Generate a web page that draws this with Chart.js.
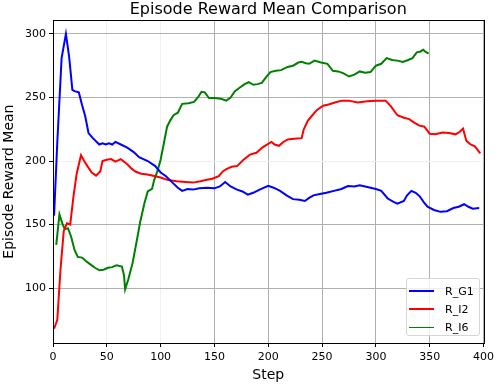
<!DOCTYPE html>
<html>
<head>
<meta charset="utf-8">
<script src="https://cdn.jsdelivr.net/npm/chart.js@4.4.1/dist/chart.umd.min.js"></script>
<style>
    body { margin: 0; background: #fff; }
    #wrap { position: relative; width: 498px; height: 384px; }
    #legend {
        position: absolute; left: 406px; top: 278px; width: 74px; height: 58px;
        border: 1px solid #d6d6d6; border-radius: 3px; background: rgba(255,255,255,0.8);
        font-family: "DejaVu Sans", sans-serif; font-size: 11px; color: #000;
        box-sizing: border-box; padding-top: 3px;
    }
    #legend .row { display: flex; align-items: center; height: 18px; }
    #legend .swatch { width: 25px; margin-left: 2px; margin-right: 11px; }
</style>
</head>
<body>
<div id="wrap">
    <canvas id="rewardChart" width="498" height="384"></canvas>
    <div id="legend"></div>
</div>
<script>
// data
const xTicks = [0, 50, 100, 150, 200, 250, 300, 350, 400];
const yTicks = [100, 150, 200, 250, 300];

const g1Steps = [1, 4, 8, 12, 15, 18, 20, 24, 27, 30, 33, 37, 43, 46, 49, 52, 55, 58, 63, 69, 75, 80, 88, 95, 100, 105, 111, 116, 120, 125, 130, 136, 143, 150, 155, 160, 165, 171, 176, 181, 186, 192, 200, 205, 211, 217, 223, 229, 234, 238, 242, 248, 254, 261, 268, 274, 280, 285, 290, 295, 300, 305, 311, 316, 320, 326, 329, 333, 337, 341, 345, 348, 354, 360, 366, 372, 377, 382, 386, 390, 396];
const g1Values = [157, 215, 281, 300, 282, 256, 255, 254, 244, 235, 222, 218, 213, 214, 213, 214, 213, 215, 213, 210.5, 207, 203, 200, 196, 191, 188, 183, 179, 176.5, 178, 177.5, 178.5, 179, 178.5, 180, 183.5, 180, 177.5, 176, 173.5, 175, 177.5, 180.5, 179, 176.5, 173, 170, 169.5, 168.5, 171, 173, 174, 175, 176.5, 178, 180.3, 180, 181, 180, 179, 178, 176.5, 170.5, 168, 166.5, 168.5, 173, 176.5, 175, 172, 167, 164, 161.5, 160, 160.5, 163, 164, 166, 164, 162.5, 163];

const i2Steps = [1, 4, 7, 10, 13, 16, 19, 22, 26, 29, 32, 36, 40, 44, 46, 50, 54, 58, 63, 69, 73, 77, 82, 86, 90, 95, 100, 107, 115, 123, 130, 137, 142, 148, 154, 158, 162, 166, 171, 177, 183, 189, 195, 200, 203, 206, 210, 214, 218, 224, 231, 233, 237, 241, 245, 251, 256, 262, 268, 275, 283, 292, 300, 309, 314, 320, 326, 331, 336, 340, 345, 350, 355, 362, 368, 374, 378, 381, 384, 388, 392, 397];
const i2Values = [68, 75, 115, 145, 151, 150, 172, 190, 204.5, 200, 196, 191, 188.5, 192, 200, 201, 201.5, 199.5, 201.5, 197.5, 194, 191.5, 190, 189.5, 189, 188, 187, 185, 184, 183.5, 183, 184, 185, 186, 188, 192, 194, 195.5, 196, 201, 205, 206.5, 211, 213.5, 215, 213, 212, 215, 217, 217.5, 218, 225, 232, 236, 240, 243.5, 244.5, 246, 247.5, 247.5, 246, 247, 247.5, 247.5, 243, 236, 234, 233, 230, 228, 227, 221.5, 221, 222.5, 222, 221, 223, 225.5, 216, 213, 211.5, 206];

const i6Steps = [3, 6, 9, 11, 14, 17, 20, 23, 27, 31, 35, 39, 43, 47, 51, 55, 59, 64, 66, 67, 70, 74, 78, 81, 85, 88, 92, 94, 97, 100, 103, 106, 109, 112, 116, 120, 126, 131, 135, 138, 141, 145, 150, 156, 161, 165, 169, 174, 178, 182, 186, 190, 194, 198, 202, 207, 212, 218, 223, 228, 231, 235, 238, 243, 249, 255, 260, 265, 270, 275, 280, 285, 290, 295, 300, 305, 310, 315, 320, 325, 330, 334, 338, 341, 344, 346, 349];
const i6Values = [134, 158, 150, 146.5, 147, 140, 130, 124.5, 124, 121, 118.5, 116, 114, 114.5, 116, 116.5, 118, 117, 110, 99, 107, 120, 138, 152, 167, 176, 178, 185, 192, 201, 214, 227, 232, 236, 238, 245, 245.5, 246.5, 250.5, 254.5, 254, 249.5, 249.5, 249, 247.5, 250, 255, 258, 260.5, 262, 260, 260.5, 261.5, 266, 270, 271, 271.5, 274, 275, 277.5, 278, 277, 276.5, 279, 277.5, 276.5, 271, 270.5, 269, 266.5, 268, 270.5, 269.5, 270, 275, 276.5, 281, 279.5, 279, 278, 279.5, 281, 285.5, 286, 287.5, 286, 284.5];

// grid lines that come out very faint in the reference
const faintX = [50, 100];
const faintY = [200];

function toPoints(xs, ys) {
    return xs.map((x, i) => ({ x: x, y: ys[i] }));
}

// black box round the plot + title centred over the plot, not the canvas
const frame = {
    id: 'frame',
    afterLayout(chart) {
        if (chart.titleBlock) {
            chart.titleBlock.left = chart.chartArea.left;
            chart.titleBlock.right = chart.chartArea.right;
            chart.titleBlock.width = chart.chartArea.right - chart.chartArea.left;
        }
    },
    afterDraw(chart) {
        const a = chart.chartArea;
        const c = chart.ctx;
        c.save();
        c.strokeStyle = '#000';
        c.lineWidth = 1;
        c.strokeRect(Math.round(a.left) + 0.5, Math.round(a.top) + 0.5, Math.round(a.right - a.left), Math.round(a.bottom - a.top));
        c.restore();
    }
};

const font = { family: '"DejaVu Sans", sans-serif', size: 11 };

const chart = new Chart(document.getElementById('rewardChart'), {
    type: 'line',
    data: {
        datasets: [
            { label: 'R_G1', data: toPoints(g1Steps, g1Values), borderColor: '#0000ff', legendWidth: 2 },
            { label: 'R_I2', data: toPoints(i2Steps, i2Values), borderColor: '#ff0000', legendWidth: 2 },
            { label: 'R_I6', data: toPoints(i6Steps, i6Values), borderColor: '#008000', legendWidth: 1 }
        ].map(d => Object.assign(d, { borderWidth: 2, pointRadius: 0, tension: 0, fill: false }))
    },
    options: {
        responsive: false,
        animation: false,
        layout: { padding: { left: 0, right: 12, top: 0, bottom: 0 } },
        plugins: {
            legend: { display: false },
            tooltip: { enabled: false },
            title: {
                display: true,
                text: 'Episode Reward Mean Comparison',
                color: '#000',
                font: { family: '"DejaVu Sans", sans-serif', size: 16, weight: 'normal' },
                padding: { top: 0, bottom: 1 }
            }
        },
        scales: {
            x: {
                type: 'linear',
                min: 0,
                max: 400,
                afterBuildTicks: s => { s.ticks = xTicks.map(v => ({ value: v })); },
                afterFit: s => { s.height = 41; },
                ticks: { color: '#000', font: font, padding: 4, maxRotation: 0 },
                grid: {
                    color: c => faintX.includes(c.tick && c.tick.value) ? '#f0f0f0' : '#b0b0b0',
                    tickColor: '#000',
                    tickLength: 4
                },
                border: { color: '#000' },
                title: { display: true, text: 'Step', color: '#000', font: { family: '"DejaVu Sans", sans-serif', size: 14 }, padding: { top: 0, bottom: 0 } }
            },
            y: {
                min: 56.8,
                max: 310.8,
                afterBuildTicks: s => { s.ticks = yTicks.map(v => ({ value: v })); },
                afterFit: s => { s.width = 53; },
                ticks: { color: '#000', font: font, padding: 3 },
                grid: {
                    color: c => faintY.includes(c.tick && c.tick.value) ? '#f0f0f0' : '#b0b0b0',
                    tickColor: '#000',
                    tickLength: 4
                },
                border: { color: '#000' },
                title: { display: true, text: 'Episode Reward Mean', color: '#000', font: { family: '"DejaVu Sans", sans-serif', size: 14 }, padding: { top: 1, bottom: 0 } }
            }
        }
    },
    plugins: [frame]
});

// legend in the lower right corner of the plot, as in the reference
const legendBox = document.getElementById('legend');
chart.data.datasets.forEach(ds => {
    const row = document.createElement('div');
    row.className = 'row';
    const sw = document.createElement('div');
    sw.className = 'swatch';
    sw.style.borderTop = ds.legendWidth + 'px solid ' + ds.borderColor;
    const txt = document.createElement('span');
    txt.textContent = ds.label;
    row.appendChild(sw);
    row.appendChild(txt);
    legendBox.appendChild(row);
});
</script>
</body>
</html>
